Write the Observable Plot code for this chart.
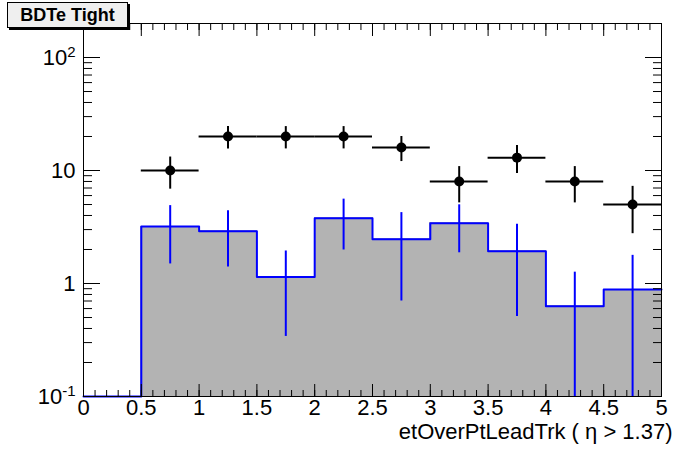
<!DOCTYPE html>
<html><head><meta charset="utf-8">
<script src="https://cdn.jsdelivr.net/npm/d3@7"></script>
<script src="https://cdn.jsdelivr.net/npm/@observablehq/plot@0.6"></script>
<style>
body{margin:0;background:#fff;}
#wrap{position:relative;width:696px;height:472px;}
#title{position:absolute;z-index:2;left:7px;top:2px;width:121px;height:26px;box-sizing:border-box;background:#efefef;border:1px solid #000;box-shadow:2px 2px 0 #000;font:bold 18px "Liberation Sans",Arial,sans-serif;display:flex;align-items:center;justify-content:center;color:#000;}
</style></head>
<body><div id="wrap"><div id="title">BDTe Tight</div></div>
<script>
// ---- data ----
const binLow  = [0, 0.5, 1, 1.5, 2, 2.5, 3, 3.5, 4, 4.5];
const binHigh = [0.5, 1, 1.5, 2, 2.5, 3, 3.5, 4, 4.5, 5];
const mcValues = [0, 3.19, 2.9, 1.14, 3.78, 2.47, 3.42, 1.93, 0.63, 0.885];
const mcErrors = [0, 1.7, 1.5, 0.8, 1.8, 1.77, 1.55, 1.42, 0.63, 0.89];
const dataLow    = [0.5, 1, 1.5, 2, 2.5, 3, 3.5, 4, 4.5];
const dataHigh   = [1, 1.5, 2, 2.5, 3, 3.5, 4, 4.5, 5];
const dataCenter = [0.75, 1.25, 1.75, 2.25, 2.75, 3.25, 3.75, 4.25, 4.75];
const dataValues = [10, 20, 20, 20, 16, 8, 13, 8, 5];
const dataErrors = [3.16, 4.47, 4.47, 4.47, 4, 2.83, 3.61, 2.83, 2.24];
const xTicks = [0, 0.5, 1, 1.5, 2, 2.5, 3, 3.5, 4, 4.5, 5];
const xTickLabels = ["0", "0.5", "1", "1.5", "2", "2.5", "3", "3.5", "4", "4.5", "5"];
const yTicks = [0.1, 1, 10, 100];
const yTickLabels = ["10^-1", "1", "10", "10^2"];
const xLabel = "etOverPtLeadTrk ( \u03b7 > 1.37)";
const yDomain = [0.1, 200];

// ---- derived tables ----
const yMin = yDomain[0];
const xMinor = d3.range(0, 50.5, 1).map(d => d / 10);
const yMinor = [];
for (const dec of [0.1, 1, 10, 100]) for (let k = 2; k <= 9; k++) { const v = +(k * dec).toPrecision(3); if (v < yDomain[1]) yMinor.push(v); }

const mc = binLow.map((lo, i) => ({lo, hi: binHigh[i], c: (lo + binHigh[i]) / 2, v: mcValues[i], e: mcErrors[i]}));
const mcFilled = mc.filter(d => d.v > 0);
const stepPts = mc.map(d => ({x: d.lo, y: Math.max(d.v, yMin)}));
stepPts.push({x: mc[mc.length - 1].hi, y: Math.max(mc[mc.length - 1].v, yMin)});
const obs = dataCenter.map((c, i) => ({c, lo: dataLow[i], hi: dataHigh[i], v: dataValues[i], e: dataErrors[i]}));

const font = "'Liberation Sans', Arial, Helvetica, sans-serif";
const fs = 22;

const svg = Plot.plot({
  width: 696, height: 472,
  marginLeft: 83, marginRight: 35, marginTop: 23, marginBottom: 76,
  style: {fontFamily: font, fontSize: fs + "px", background: "#fff", overflow: "visible"},
  x: {domain: [0, 5], axis: null},
  y: {type: "log", domain: yDomain, axis: null},
  marks: [
    Plot.rect(mcFilled, {x1: "lo", x2: "hi", y1: () => yMin, y2: "v", fill: "#b3b3b3", stroke: "#b3b3b3", strokeWidth: 1, shapeRendering: "crispEdges"}),
    Plot.line(stepPts, {x: "x", y: "y", curve: "step-after", stroke: "#0000ff", strokeWidth: 2}),
    Plot.ruleX(mcFilled, {x: "c", y1: d => Math.max(d.v - d.e, yMin), y2: d => d.v + d.e, stroke: "#0000ff", strokeWidth: 2}),
    Plot.ruleY(obs, {y: "v", x1: "lo", x2: "hi", stroke: "#000", strokeWidth: 2}),
    Plot.ruleX(obs, {x: "c", y1: d => d.v - d.e, y2: d => d.v + d.e, stroke: "#000", strokeWidth: 2}),
    Plot.dot(obs, {x: "c", y: "v", r: 5, fill: "#000", stroke: "none"}),
    Plot.frame({stroke: "#000", strokeWidth: 1}),
    // x axis ticks (inward), bottom and top
    Plot.axisX({anchor: "bottom", ticks: xTicks, tickSize: -12, text: null, label: null}),
    Plot.axisX({anchor: "bottom", ticks: xMinor, tickSize: -6, text: null, label: null}),
    Plot.axisX({anchor: "top", ticks: xTicks, tickSize: -12, text: null, label: null}),
    Plot.axisX({anchor: "top", ticks: xMinor, tickSize: -6, text: null, label: null}),
    Plot.axisX({anchor: "bottom", ticks: xTicks, tickSize: 0, tickPadding: 3, label: null, fontSize: fs,
      tickFormat: d => xTickLabels[xTicks.indexOf(d)]}),
    // y axis ticks (inward), left and right
    Plot.axisY({anchor: "left", ticks: yTicks, tickSize: -17, text: null, label: null}),
    Plot.axisY({anchor: "left", ticks: yMinor, tickSize: -9, text: null, label: null}),
    Plot.axisY({anchor: "right", ticks: yTicks, tickSize: -17, text: null, label: null}),
    Plot.axisY({anchor: "right", ticks: yMinor, tickSize: -9, text: null, label: null}),
    Plot.axisY({anchor: "left", ticks: yTicks, tickSize: 0, tickPadding: 8, label: null, fontSize: fs,
      tickFormat: d => yTickLabels[yTicks.indexOf(d)]}),
    Plot.text([xLabel], {frameAnchor: "bottom-right", text: d => d, dx: 11, dy: 42, textAnchor: "end", fontSize: fs})
  ]
});

d3.select(svg).selectAll('g[aria-label="y-axis tick label"] text').each(function () {
  const t = this.textContent;
  const m = t.match(/^(\d+)\^(.+)$/);
  if (m) {
    const s = d3.select(this);
    s.text(m[1]);
    s.append("tspan").attr("dy", "-0.5em").attr("font-size", "15px").text(m[2]);
  }
});

document.getElementById("wrap").appendChild(svg);
</script>
</body></html>
